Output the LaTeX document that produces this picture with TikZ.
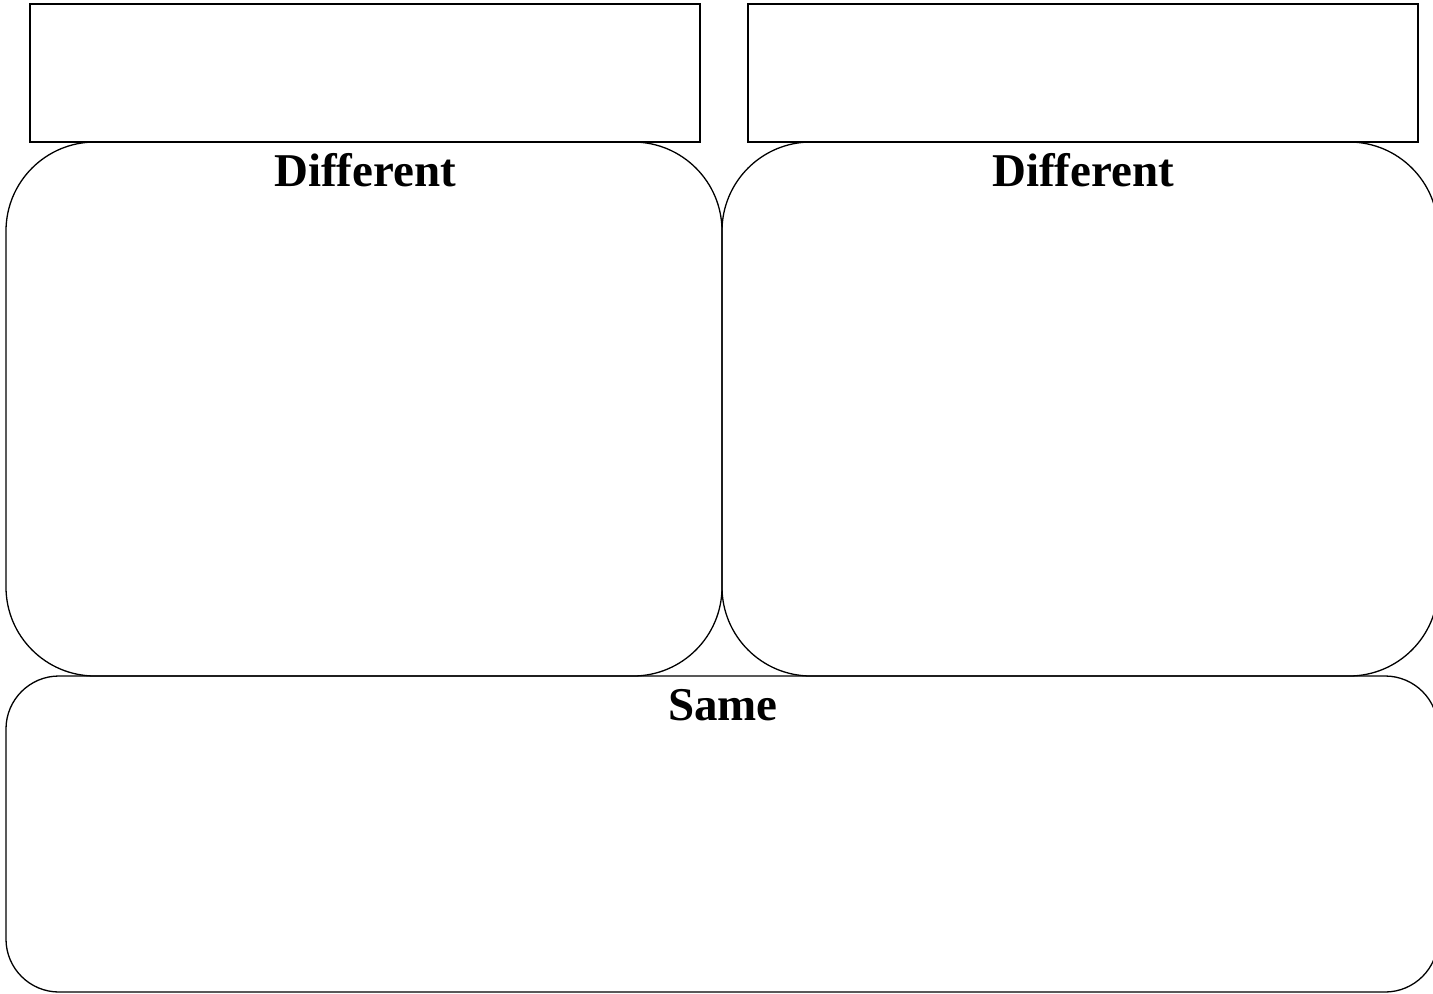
\documentclass[tikz,border=0pt]{standalone}
\usepackage{fontspec}
\setmainfont{Liberation Serif}
\begin{document}
\begin{tikzpicture}[x=1bp,y=-1bp,
  line/.style={draw=black,line width=1.3bp},
  topbox/.style={line,rectangle,inner sep=0pt,minimum width=670bp,minimum height=138bp},
  bigbox/.style={line,rectangle,inner sep=0pt,rounded corners=89bp,minimum width=716bp,minimum height=534bp},
  samebox/.style={line,rectangle,inner sep=0pt,rounded corners=53bp,minimum width=1432bp,minimum height=316bp},
  title/.style={font=\fontsize{47bp}{50bp}\selectfont\bfseries,anchor=base,inner sep=0pt}]
\useasboundingbox (0,0) rectangle (1433,993);
\clip (0,0) rectangle (1433,993);
\node[topbox] (t1) at (365,73) {};
\node[topbox] (t2) at (1083,73) {};
\node[bigbox] (d1) at (364,409) {};
\node[bigbox] (d2) at (1080,409) {};
\node[samebox] (s) at (722,834) {};
\node[title] (d1t) at (365,186) {Different};
\node[title] (d2t) at (1083,186) {Different};
\node[title] (st) at (723,720) {Same};
\end{tikzpicture}
\end{document}
